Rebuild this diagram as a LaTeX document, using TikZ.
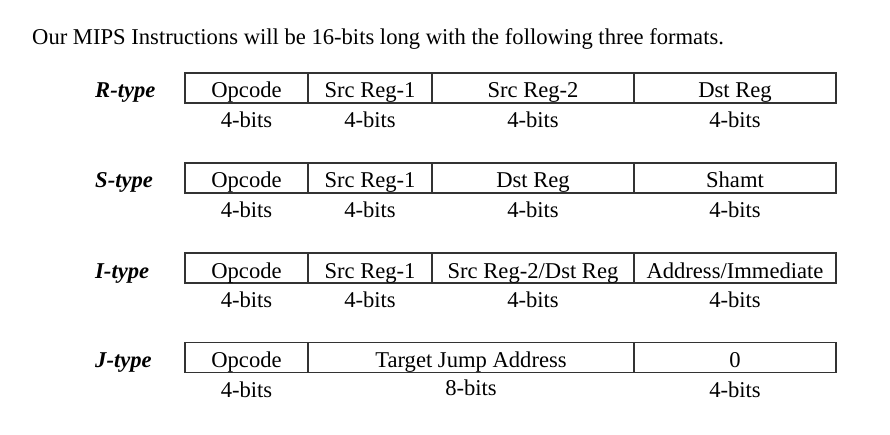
\documentclass[tikz,border=0pt]{standalone}
\usepackage{fontspec}
\setmainfont{Liberation Serif}
\begin{document}
\begin{tikzpicture}[x=1pt,y=-1pt,
  every node/.style={font=\fontsize{22.6}{26}\selectfont, inner sep=0pt},
  cell/.style={draw=black!80, line width=1.3pt, minimum height=30pt, text height=20.5pt, text depth=0.5pt, anchor=center},
  rowlabel/.style={anchor=base west, font=\fontsize{22.6}{26}\selectfont\bfseries\itshape},
  bits/.style={anchor=base},
  title/.style={anchor=base west}]
\useasboundingbox (0,0) rectangle (890,435);
\node[title] (t) at (32,45) {Our MIPS Instructions will be 16-bits long with the following three formats.};
% R-type
\node[rowlabel] (rl) at (95,98) {R-type};
\node[cell, minimum width=123pt] (r1) at (246.5,88) {Opcode};
\node[cell, minimum width=124pt] (r2) at (370,88) {Src Reg-1};
\node[cell, minimum width=202pt] (r3) at (533,88) {Src Reg-2};
\node[cell, minimum width=202pt] (r4) at (735,88) {Dst Reg};
\node[bits] (rb1) at (246.5,128) {4-bits};
\node[bits] (rb2) at (370,128) {4-bits};
\node[bits] (rb3) at (533,128) {4-bits};
\node[bits] (rb4) at (735,128) {4-bits};
% S-type
\node[rowlabel] (sl) at (95,188) {S-type};
\node[cell, minimum width=123pt] (s1) at (246.5,178) {Opcode};
\node[cell, minimum width=124pt] (s2) at (370,178) {Src Reg-1};
\node[cell, minimum width=202pt] (s3) at (533,178) {Dst Reg};
\node[cell, minimum width=202pt] (s4) at (735,178) {Shamt};
\node[bits] (sb1) at (246.5,218) {4-bits};
\node[bits] (sb2) at (370,218) {4-bits};
\node[bits] (sb3) at (533,218) {4-bits};
\node[bits] (sb4) at (735,218) {4-bits};
% I-type
\node[rowlabel] (il) at (95,278) {I-type};
\node[cell, minimum width=123pt] (i1) at (246.5,268) {Opcode};
\node[cell, minimum width=124pt] (i2) at (370,268) {Src Reg-1};
\node[cell, minimum width=202pt] (i3) at (533,268) {Src Reg-2/Dst Reg};
\node[cell, minimum width=202pt] (i4) at (735,268) {Address/Immediate};
\node[bits] (ib1) at (246.5,307.5) {4-bits};
\node[bits] (ib2) at (370,307.5) {4-bits};
\node[bits] (ib3) at (533,307.5) {4-bits};
\node[bits] (ib4) at (735,307.5) {4-bits};
% J-type
\node[rowlabel] (jl) at (95,367) {J-type};
\node[cell, minimum width=123pt] (j1) at (246.5,357.5) {Opcode};
\node[cell, minimum width=326pt] (j2) at (471,357.5) {Target Jump Address};
\node[cell, minimum width=202pt] (j3) at (735,357.5) {0};
\node[bits] (jb1) at (246.5,397.5) {4-bits};
\node[bits] (jb2) at (471,395.5) {8-bits};
\node[bits] (jb3) at (735,397.5) {4-bits};
\end{tikzpicture}
\end{document}
